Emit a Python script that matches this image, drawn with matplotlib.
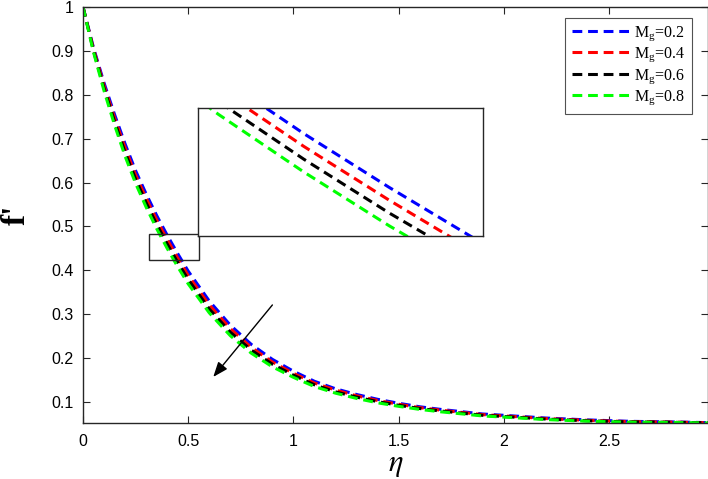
import numpy as np
import matplotlib
matplotlib.use("Agg")
import matplotlib.pyplot as plt
from matplotlib.patches import Rectangle

# Data
eta = [0, 0.05, 0.1, 0.15, 0.2, 0.25, 0.3, 0.35, 0.4, 0.45, 0.5, 0.6, 0.7, 0.8, 0.9,
       1.0, 1.1, 1.2, 1.3, 1.4, 1.5, 1.6, 1.7, 1.8, 1.9, 2.0, 2.2, 2.4, 2.6, 2.8, 3.0]

fp_mg02 = [1.000, 0.907, 0.827, 0.755, 0.688, 0.627, 0.574, 0.525, 0.480, 0.438, 0.398,
           0.330, 0.275, 0.231, 0.197, 0.170, 0.147, 0.130, 0.117, 0.106, 0.097, 0.089,
           0.083, 0.0778, 0.0725, 0.0695, 0.0633, 0.059, 0.0558, 0.0544, 0.0526]
fp_mg04 = [1.000, 0.904, 0.821, 0.747, 0.679, 0.617, 0.564, 0.515, 0.470, 0.428, 0.388,
           0.321, 0.267, 0.224, 0.191, 0.165, 0.143, 0.127, 0.114, 0.1033, 0.0947, 0.087,
           0.0812, 0.0761, 0.071, 0.0682, 0.0621, 0.058, 0.0551, 0.054, 0.0524]
fp_mg06 = [1.000, 0.900, 0.815, 0.739, 0.669, 0.608, 0.554, 0.505, 0.460, 0.418, 0.379,
           0.312, 0.259, 0.218, 0.186, 0.161, 0.139, 0.123, 0.111, 0.1007, 0.0923, 0.085,
           0.0793, 0.0745, 0.0695, 0.0668, 0.061, 0.057, 0.0545, 0.0536, 0.0522]
fp_mg08 = [1.000, 0.897, 0.809, 0.731, 0.660, 0.598, 0.544, 0.495, 0.450, 0.408, 0.369,
           0.303, 0.251, 0.211, 0.180, 0.156, 0.135, 0.120, 0.108, 0.098, 0.090, 0.083,
           0.0775, 0.0728, 0.068, 0.0655, 0.0598, 0.056, 0.0538, 0.0532, 0.052]

series = [fp_mg02, fp_mg04, fp_mg06, fp_mg08]
labels = ["0.2", "0.4", "0.6", "0.8"]
colors = ["#0000ff", "#ff0000", "#000000", "#00ff00"]

xticks = [0, 0.5, 1, 1.5, 2, 2.5]
xticklabels = ["0", "0.5", "1", "1.5", "2", "2.5"]
yticks = [0.1, 0.2, 0.3, 0.4, 0.5, 0.6, 0.7, 0.8, 0.9, 1.0]
yticklabels = ["0.1", "0.2", "0.3", "0.4", "0.5", "0.6", "0.7", "0.8", "0.9", "1"]

plt.rcParams["font.family"] = "Liberation Sans"
plt.rcParams["mathtext.fontset"] = "stix"

fig = plt.figure(figsize=(7.08, 4.79), dpi=100)
ax = fig.add_axes([83 / 708, 56 / 479, 625 / 708, 416 / 479])

for y, lab, c in zip(series, labels, colors):
    ax.plot(eta, y, color=c, lw=2.2, ls=(0, (3.2, 1.9)),
            label=r"M$_\mathregular{g}$=" + lab)

ax.set_xlim(0, 2.97)
ax.set_ylim(0.052, 1.0)
ax.set_xticks(xticks)
ax.set_xticklabels(xticklabels)
ax.set_yticks(yticks)
ax.set_yticklabels(yticklabels)
ax.tick_params(direction="in", top=True, right=True, length=5, width=0.8,
               color="#262626", labelsize=11.5, labelcolor="#000000")
ax.tick_params(axis="x", pad=8)
ax.tick_params(axis="y", pad=7)
for s in ax.spines.values():
    s.set_color("#262626")
    s.set_linewidth(1.0)

ax.set_xlabel(r"$\eta$", fontsize=22, labelpad=0)
ax.set_ylabel("f'", fontsize=24, fontweight="bold", family="Liberation Serif",
              labelpad=14)

leg = ax.legend(loc="upper right", bbox_to_anchor=(692 / 708, 461 / 479),
                bbox_transform=fig.transFigure, frameon=True, fancybox=False,
                edgecolor="#262626", handlelength=3.6, handletextpad=0.3,
                borderpad=0.4, labelspacing=0.2, borderaxespad=0,
                prop={"family": "Liberation Serif", "size": 11.5})
leg.get_frame().set_linewidth(0.8)

# small zoom window on the curves
ax.add_patch(Rectangle((0.314, 0.424), 0.238, 0.059, fill=False,
                       edgecolor="#262626", lw=1.0, zorder=5))

# arrow showing increasing Mg
ax.annotate("", xy=(0.619, 0.157), xytext=(0.90, 0.321),
            arrowprops=dict(arrowstyle="-|>,head_length=0.9,head_width=0.35",
                            color="black", lw=1.0, shrinkA=0, shrinkB=0))

# inset
axin = fig.add_axes([198 / 708, 243 / 479, 285 / 708, 128 / 479])
for y, c in zip(series, colors):
    axin.plot(eta, y, color=c, lw=2.2, ls=(0, (3.2, 1.9)))
axin.set_xlim(0.338, 0.505)
axin.set_ylim(0.40, 0.50)
axin.set_xticks([])
axin.set_yticks([])
for s in axin.spines.values():
    s.set_color("#262626")
    s.set_linewidth(1.0)

fig.savefig("out.png", dpi=100)
